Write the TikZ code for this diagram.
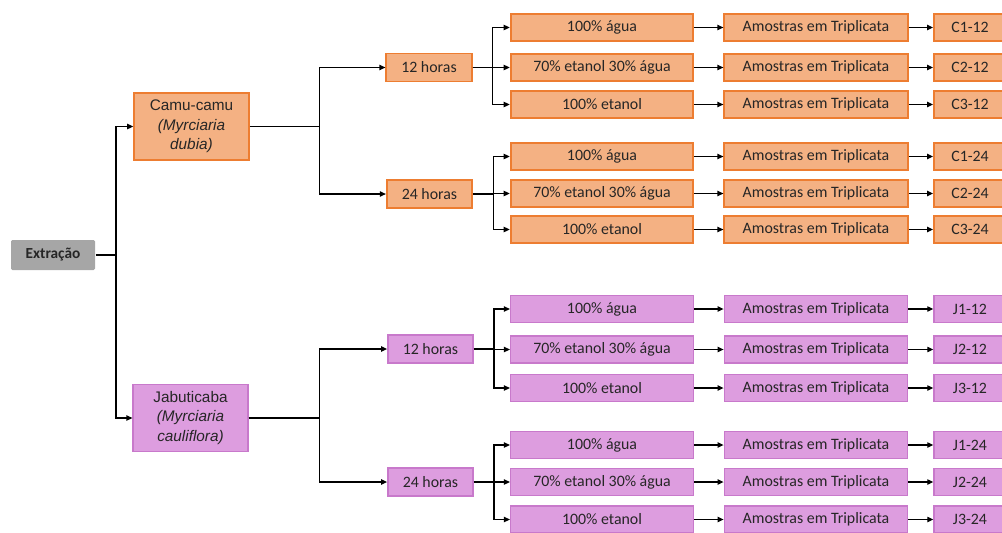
\documentclass[tikz,border=0pt]{standalone}
\usepackage{fontspec}
\setmainfont{Carlito}
\newfontfamily\arialfont{Liberation Sans}
\usetikzlibrary{arrows.meta}
\definecolor{camufill}{HTML}{F4B183}
\definecolor{camudraw}{HTML}{ED7D31}
\definecolor{jabfill}{HTML}{DD9DDF}
\definecolor{jabdraw}{HTML}{C879CB}
\definecolor{extfill}{HTML}{A6A6A6}
\begin{document}
\begin{tikzpicture}[
		x=0.75pt, y=-0.75pt,
		every node/.style={align=center, text=black!85, font=\fontsize{11.9}{14}\selectfont},
		box/.style={rectangle, draw, line width=1.4pt, inner sep=0pt, minimum height=20.5pt},
		camu/.style={box, fill=camufill, draw=camudraw},
		jab/.style={box, fill=jabfill, draw=jabdraw, line width=1.1pt},
		solvent/.style={minimum width=137pt},
		sample/.style={minimum width=137.5pt},
		samplecode/.style={minimum width=54pt},
		hours/.style={minimum width=64pt, minimum height=21pt},
		fruit/.style={minimum width=86pt, minimum height=50.5pt, font=\arialfont\fontsize{11.5}{14.5}\selectfont},
		link/.style={line width=0.9pt, -{Triangle[length=4.5pt,width=4pt]}}
		]
		\path[use as bounding box, clip] (0,0) rectangle (1002,532);
		
		% Root
		\node[box, fill=extfill, draw=none, rounded corners=1pt, minimum width=63pt, minimum height=22.5pt, font=\bfseries\fontsize{11.5}{14}\selectfont] (ext) at (53,255) {Extração};
		
		% Fruits
		\node[camu, fruit] (camu) at (191.5,126.5) {Camu-camu\\\textit{(Myrciaria}\\\textit{dubia)}};
		\node[jab, fruit] (jab) at (190.5,418) {Jabuticaba\\\textit{(Myrciaria}\\\textit{cauliflora)}};
		\draw[link] (ext.east) -- ++(20,0) |- (camu.west);
		\draw[link] (ext.east) -- ++(20,0) |- (jab.west);
		
		% Extraction times
		\node[camu, hours] (c12h) at (429,67.5) {12 horas};
		\node[camu, hours] (c24h) at (429.5,194) {24 horas};
		\node[jab, hours] (j12h) at (430.5,349) {12 horas};
		\node[jab, hours] (j24h) at (430.5,482) {24 horas};
		\draw[link] (camu.east) -- ++(70,0) |- (c12h.west);
		\draw[link] (camu.east) -- ++(70,0) |- (c24h.west);
		\draw[link] (jab.east) -- ++(71,0) |- (j12h.west);
		\draw[link] (jab.east) -- ++(71,0) |- (j24h.west);
		
		% Solvents, samples and codes
		\foreach \grp/\sty/\hr/\ya/\yb/\yc/\pre/\suf in {
			c12/camu/c12h/27.5/67.5/104.5/C/12,
			c24/camu/c24h/156.5/193.5/229.5/C/24,
			j12/jab/j12h/309/349.5/388/J/12,
			j24/jab/j24h/445/482/519.5/J/24}{
			\foreach \k/\yy/\txt in {1/\ya/100\% água, 2/\yb/70\% etanol 30\% água, 3/\yc/100\% etanol}{
				\node[\sty, solvent] (\grp s\k) at (602,\yy) {\txt};
				\node[\sty, sample] (\grp a\k) at (816,\yy) {Amostras em Triplicata};
				\node[\sty, samplecode] (\grp t\k) at (970,\yy) {\pre\k-\suf};
				\draw[link] (\hr.east) -- ++(20,0) |- (\grp s\k.west);
				\draw[link] (\grp s\k) -- (\grp a\k);
				\draw[link] (\grp a\k) -- (\grp t\k);
			}
		}
		
	\end{tikzpicture}
\end{document}
